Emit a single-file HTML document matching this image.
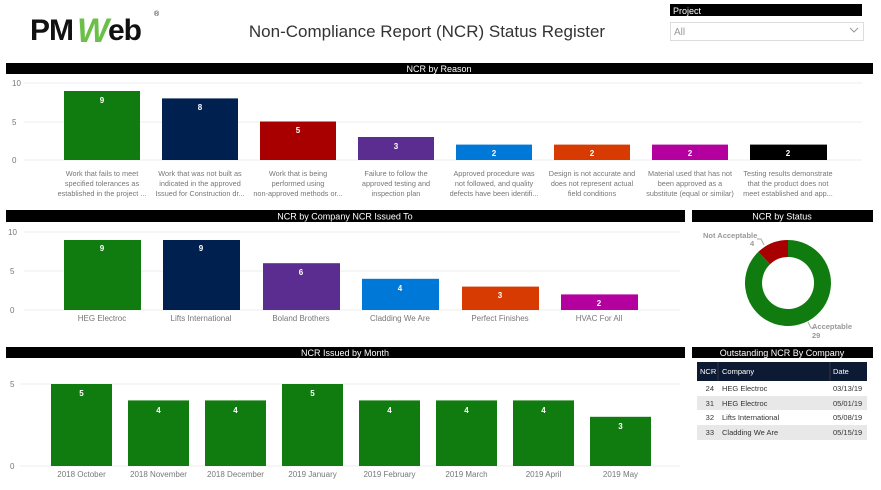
<!DOCTYPE html>
<html><head><meta charset="utf-8"><style>
body{margin:0;background:#fff;width:881px;height:485px;overflow:hidden}
svg text{font-family:"Liberation Sans",sans-serif}
</style></head><body>
<svg width="881" height="485" xmlns="http://www.w3.org/2000/svg">
<text x="30" y="40" font-size="30" font-weight="bold" fill="#111" letter-spacing="-1">PM</text>
<text x="77" y="42" font-size="34" font-weight="bold" fill="#6cc04a" font-style="italic">W</text>
<text x="108" y="40" font-size="30" font-weight="bold" fill="#111" letter-spacing="-1">eb</text>
<text x="154" y="16" font-size="7" fill="#111">®</text>
<text x="427" y="37" font-size="17" fill="#333" text-anchor="middle">Non-Compliance Report (NCR) Status Register</text>
<rect x="670" y="4" width="192" height="12" fill="#000"/>
<text x="673" y="14" font-size="9" fill="#fff">Project</text>
<rect x="670.5" y="22.5" width="193" height="18" fill="#fff" stroke="#ddd"/>
<text x="674" y="35" font-size="10" fill="#999">All</text>
<path d="M850 28 l4 4 l4 -4" fill="none" stroke="#999"/>

<rect x="6" y="63" width="867" height="11" fill="#000"/>
<text x="439" y="72" font-size="9" fill="#fff" text-anchor="middle">NCR by Reason</text>
<g font-size="8" fill="#777">
<text x="12" y="86">10</text><text x="12" y="125">5</text><text x="12" y="163">0</text></g>
<g stroke="#eee"><line x1="24" y1="83" x2="862" y2="83"/><line x1="24" y1="122" x2="862" y2="122"/><line x1="24" y1="160" x2="862" y2="160"/></g>
<g>
<rect x="64" y="91" width="76" height="69" fill="#107c10"/>
<rect x="162" y="98.4" width="76" height="61.6" fill="#002050"/>
<rect x="260" y="121.5" width="76" height="38.5" fill="#a80000"/>
<rect x="358" y="137" width="76" height="23" fill="#5c2d91"/>
<rect x="456" y="144.6" width="76" height="15.4" fill="#0078d7"/>
<rect x="554" y="144.6" width="76" height="15.4" fill="#d83b01"/>
<rect x="652" y="144.6" width="76" height="15.4" fill="#b4009e"/>
<rect x="750" y="144.6" width="77" height="15.4" fill="#000"/>
</g>
<g font-size="8" font-weight="bold" fill="#fff" text-anchor="middle">
<text x="102" y="103">9</text><text x="200" y="110">8</text><text x="298" y="133">5</text><text x="396" y="149">3</text>
<text x="494" y="156">2</text><text x="592" y="156">2</text><text x="690" y="156">2</text><text x="788" y="156">2</text></g>
<g font-size="7.3" fill="#777" text-anchor="middle">
<text x="102" y="176">Work that fails to meet</text><text x="102" y="186">specified tolerances as</text><text x="102" y="196">established in the project ...</text>
<text x="200" y="176">Work that was not built as</text><text x="200" y="186">indicated in the approved</text><text x="200" y="196">Issued for Construction dr...</text>
<text x="298" y="176">Work that is being</text><text x="298" y="186">performed using</text><text x="298" y="196">non-approved methods or...</text>
<text x="396" y="176">Failure to follow the</text><text x="396" y="186">approved testing and</text><text x="396" y="196">inspection plan</text>
<text x="494" y="176">Approved procedure was</text><text x="494" y="186">not followed, and quality</text><text x="494" y="196">defects have been identifi...</text>
<text x="592" y="176">Design is not accurate and</text><text x="592" y="186">does not represent actual</text><text x="592" y="196">field conditions</text>
<text x="690" y="176">Material used that has not</text><text x="690" y="186">been approved as a</text><text x="690" y="196">substitute (equal or similar)</text>
<text x="788" y="176">Testing results demonstrate</text><text x="788" y="186">that the product does not</text><text x="788" y="196">meet established and app...</text>
</g>

<rect x="6" y="210" width="679" height="12" fill="#000"/>
<text x="345" y="219.5" font-size="9" fill="#fff" text-anchor="middle">NCR by Company NCR Issued To</text>
<g font-size="8" fill="#777">
<text x="8" y="235">10</text><text x="10" y="274">5</text><text x="10" y="313">0</text></g>
<g stroke="#eee"><line x1="24" y1="232" x2="680" y2="232"/><line x1="24" y1="271" x2="680" y2="271"/><line x1="24" y1="310" x2="680" y2="310"/></g>
<rect x="64" y="240" width="77" height="70" fill="#107c10"/>
<rect x="163" y="240" width="77" height="70" fill="#002050"/>
<rect x="263" y="263.2" width="77" height="46.8" fill="#5c2d91"/>
<rect x="362" y="278.8" width="77" height="31.2" fill="#0078d7"/>
<rect x="462" y="286.6" width="77" height="23.4" fill="#d83b01"/>
<rect x="561" y="294.4" width="77" height="15.6" fill="#b4009e"/>
<g font-size="8" font-weight="bold" fill="#fff" text-anchor="middle">
<text x="102" y="251">9</text><text x="201" y="251">9</text><text x="301" y="275">6</text><text x="400" y="291">4</text><text x="500" y="298">3</text><text x="599" y="306">2</text></g>
<g font-size="8" fill="#777" text-anchor="middle">
<text x="102" y="321">HEG Electroc</text><text x="201" y="321">Lifts International</text><text x="301" y="321">Boland Brothers</text>
<text x="400" y="321">Cladding We Are</text><text x="500" y="321">Perfect Finishes</text><text x="599" y="321">HVAC For All</text></g>

<rect x="692" y="210" width="181" height="12" fill="#000"/>
<text x="782" y="219.5" font-size="9" fill="#fff" text-anchor="middle">NCR by Status</text>
<path d="M788 240 A43 43 0 1 1 758.3 251.9 L770.1 264.2 A26 26 0 1 0 788 257 Z" fill="#107c10"/>
<path d="M788 240 A43 43 0 0 0 758.3 251.9 L770.1 264.2 A26 26 0 0 1 788 257 Z" fill="#a80000"/>
<path d="M757 239 l4 0 l3 6" fill="none" stroke="#aaa"/>
<path d="M808 322 l3 6 l4 0" fill="none" stroke="#aaa"/>
<g font-size="7.5" font-weight="bold" fill="#999">
<text x="703" y="238">Not Acceptable</text><text x="750" y="246">4</text>
<text x="812" y="329">Acceptable</text><text x="812" y="338">29</text></g>

<rect x="6" y="347" width="679" height="11" fill="#000"/>
<text x="345" y="356" font-size="9" fill="#fff" text-anchor="middle">NCR Issued by Month</text>
<g font-size="8" fill="#777"><text x="10" y="387">5</text><text x="10" y="469">0</text></g>
<g stroke="#eee"><line x1="20" y1="384" x2="680" y2="384"/><line x1="20" y1="466" x2="680" y2="466"/></g>
<g fill="#107c10">
<rect x="51" y="384" width="61" height="82"/><rect x="128" y="400.4" width="61" height="65.6"/>
<rect x="205" y="400.4" width="61" height="65.6"/><rect x="282" y="384" width="61" height="82"/>
<rect x="359" y="400.4" width="61" height="65.6"/><rect x="436" y="400.4" width="61" height="65.6"/>
<rect x="513" y="400.4" width="61" height="65.6"/><rect x="590" y="416.8" width="61" height="49.2"/></g>
<g font-size="8" font-weight="bold" fill="#fff" text-anchor="middle">
<text x="81.5" y="396">5</text><text x="158.5" y="413">4</text><text x="235.5" y="413">4</text><text x="312.5" y="396">5</text>
<text x="389.5" y="413">4</text><text x="466.5" y="413">4</text><text x="543.5" y="413">4</text><text x="620.5" y="429">3</text></g>
<g font-size="8" fill="#777" text-anchor="middle">
<text x="81.5" y="477">2018 October</text><text x="158.5" y="477">2018 November</text><text x="235.5" y="477">2018 December</text>
<text x="312.5" y="477">2019 January</text><text x="389.5" y="477">2019 February</text><text x="466.5" y="477">2019 March</text>
<text x="543.5" y="477">2019 April</text><text x="620.5" y="477">2019 May</text></g>

<rect x="692" y="347" width="181" height="11" fill="#000"/>
<text x="782" y="356" font-size="9" fill="#fff" text-anchor="middle">Outstanding NCR By Company</text>
<rect x="697" y="362" width="170" height="19" fill="#0d1a33"/>
<line x1="718" y1="362" x2="718" y2="381" stroke="#334"/>
<line x1="830" y1="362" x2="830" y2="381" stroke="#334"/>
<g font-size="7.5" fill="#fff"><text x="700" y="374">NCR</text><text x="722" y="374">Company</text><text x="833" y="374">Date</text></g>
<rect x="697" y="396" width="170" height="14" fill="#e8e8e8"/>
<rect x="697" y="425" width="170" height="15" fill="#e8e8e8"/>
<g font-size="7.5" fill="#333">
<text x="714" y="391" text-anchor="end">24</text><text x="722" y="391">HEG Electroc</text><text x="833" y="391">03/13/19</text>
<text x="714" y="406" text-anchor="end">31</text><text x="722" y="406">HEG Electroc</text><text x="833" y="406">05/01/19</text>
<text x="714" y="420" text-anchor="end">32</text><text x="722" y="420">Lifts International</text><text x="833" y="420">05/08/19</text>
<text x="714" y="435" text-anchor="end">33</text><text x="722" y="435">Cladding We Are</text><text x="833" y="435">05/15/19</text></g>
</svg>
</body></html>
